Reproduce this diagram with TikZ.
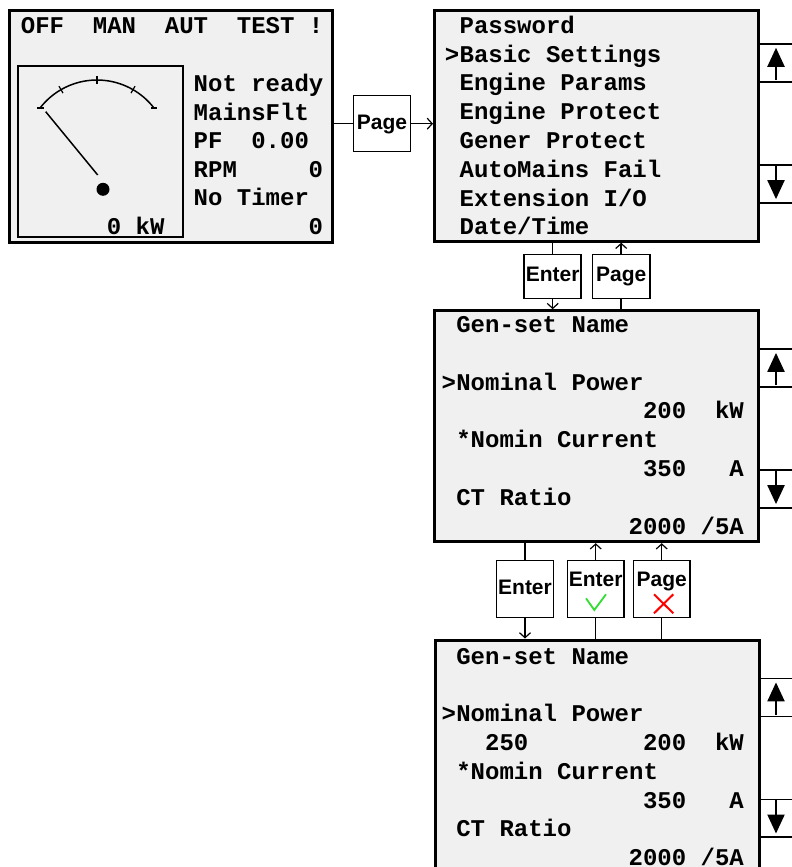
\documentclass[tikz,border=0pt]{standalone}
\usepackage{fontspec}
\usepackage{xcolor}
\usepackage{tikz}
\usetikzlibrary{arrows.meta, positioning, calc}
\newfontfamily\lcdfont{Liberation Mono}
\newfontfamily\keyfont{Liberation Sans}
\definecolor{lcdbg}{HTML}{F0F0F0}
\definecolor{okgreen}{HTML}{33DD33}
\definecolor{badred}{HTML}{FF0000}

\begin{document}
\begin{tikzpicture}[
    x=1pt, y=-1pt,
    screen/.style={rectangle, draw=black, line width=3pt, fill=lcdbg, minimum width=324pt, minimum height=231pt, inner sep=0pt},
    txt/.style={anchor=base west, inner sep=0pt, font=\lcdfont\bfseries\fontsize{24}{24}\selectfont},
    rtxt/.style={txt, anchor=base east},
    key/.style={rectangle, draw=black, line width=1.5pt, fill=white, minimum width=57pt, minimum height=44pt, inner sep=0pt, text height=15pt, text depth=4pt, font=\keyfont\bfseries\fontsize{21}{21}\selectfont},
    scroll/.style={rectangle, draw=black, line width=1.5pt, fill=white, minimum width=41pt, minimum height=37.7pt},
    scrollarr/.style={draw=black, line width=2.2pt, -{Triangle[length=19pt, width=17pt]}},
    line/.style={draw=black, line width=1.5pt},
    arr/.style={line, -{Straight Barb[length=5pt, width=11pt, line width=1.2pt]}}
]
\useasboundingbox (0,0) rectangle (792,867);

% Scroll keys beside the three setpoint screens
\foreach \sc/\u/\d in {1/62.9/183.9, 2/368/488.9, 3/697.5/818.3} {
  \node [scroll] (up\sc) at (779.5,\u) {};
  \node [scroll] (dn\sc) at (779.5,\d) {};
  \path [scrollarr] ($(up\sc.south)+(-3.5,-2.5)$) -- ($(up\sc.north)+(-3.5,4.5)$);
  \path [scrollarr] ($(dn\sc.north)+(-3.5,1.7)$) -- ($(dn\sc.south)+(-3.5,-4.4)$);
}

% Status screen with power gauge
\node [screen, minimum width=323pt] (status) at (171,126.5) {};
\draw [line width=2pt] (17.7,66) rectangle (182.7,237.3);
\draw [line width=1.5pt] (97,152) ++(-142.3:72) arc[start angle=-142.3, end angle=-37.7, radius=72];
\foreach \a in {-120,-90,-60}
  \draw [line width=1.2pt] (97,152) ++(\a:68) -- ++(\a:8);
\draw [line width=1.2pt] (37.3,108) -- (43.5,108);
\draw [line width=1.2pt] (151,108) -- (157.3,108);
\draw [line width=1.5pt] (45.7,111.7) -- (97.7,175);
\fill (103,189.3) circle[radius=6.5];
\node [txt] (modes) at (20.7,33.4) {OFF~~MAN~~AUT~~TEST~!};
\foreach \t [count=\i from 0] in {Not ready, MainsFlt, PF~~0.00, RPM, No Timer}
  \node [txt] (st\i) at (193.5,91.5+28.6*\i) {\t};
\node [rtxt] (rpm) at (323.1,177.3) {0};
\node [rtxt] (timer) at (323.1,234.5) {0};
\node [rtxt] (power) at (164.7,234.5) {0~kW};

% Setpoint group menu
\node [screen] (menu) at (596.5,125.7) {};
\foreach \t [count=\i from 0] in {Password, Basic Settings, Engine Params, Engine Protect, Gener Protect, AutoMains Fail, Extension I/O, Date/Time}
  \node [txt] (mn\i) at (459.4,33.3+28.8*\i) {\t};
\node [rtxt] (cur1) at (459.4,62.1) {>};

% Basic settings list, before and after editing
\node [screen] (params) at (596.5,426.2) {};
\node [screen] (edit) at (597,755.5) {};
\foreach \scr/\top in {params/332.7, edit/664.3} {
  \node [txt] (\scr-r0) at (456.1,\top) {Gen-set Name};
  \node [rtxt] (\scr-cur) at (456.1,\top+2*28.76) {>};
  \node [txt] (\scr-r2) at (456.1,\top+2*28.76) {Nominal Power};
  \node [rtxt] (\scr-r3) at (744.1,\top+3*28.76) {200~~kW};
  \node [txt] (\scr-r4) at (456.1,\top+4*28.76) {*Nomin Current};
  \node [rtxt] (\scr-r5) at (744.1,\top+5*28.76) {350~~~A};
  \node [txt] (\scr-r6) at (456.1,\top+6*28.76) {CT Ratio};
  \node [rtxt] (\scr-r7) at (744.1,\top+7*28.76) {2000~/5A};
}
\node [txt] (newval) at (484.9,664.3+3*28.76) {250};

% Keys
\node [key, minimum height=56pt] (pg1) at (382,123.7) {Page};
\node [key] (ent1) at (552.7,276.3) {Enter};
\node [key, minimum width=57.7pt] (pg2) at (621.2,276.3) {Page};
\node [key, minimum width=56.6pt, minimum height=56.6pt] (ent2) at (525,589) {Enter};
\node [key, minimum width=56.6pt, minimum height=56.6pt, text depth=19.6pt] (ok) at (595.7,589) {Enter};
\node [key, minimum width=56.6pt, minimum height=56.6pt, text depth=19.6pt] (nok) at (661.7,589) {Page};
\draw [okgreen, line width=1.8pt] ([shift={(-9.7,9.3)}]ok.center) -- ([shift={(-1.4,21)}]ok.center) -- ([shift={(10.3,5.3)}]ok.center);
\draw [badred, line width=2pt] ([shift={(-7.7,5.3)}]nok.center) -- ([shift={(11.6,24.3)}]nok.center);
\draw [badred, line width=2pt] ([shift={(-7.7,24.3)}]nok.center) -- ([shift={(11.6,5.3)}]nok.center);

% Connections
\path [line] (status.east |- pg1.west) -- (pg1.west);
\path [arr] (pg1.east) -- (pg1.east -| menu.west);
\path [line] (menu.south -| ent1) -- (ent1);
\path [arr] (ent1) -- (ent1 |- params.north);
\path [line] (params.north -| pg2) -- (pg2);
\path [arr] (pg2) -- (pg2 |- menu.south);
\path [line] (params.south -| ent2) -- (ent2);
\path [arr] (ent2) -- (ent2 |- edit.north);
\path [line] (edit.north -| ok) -- (ok);
\path [arr] (ok) -- (ok |- params.south);
\path [line] (edit.north -| nok) -- (nok);
\path [arr] (nok) -- (nok |- params.south);

\end{tikzpicture}
\end{document}
